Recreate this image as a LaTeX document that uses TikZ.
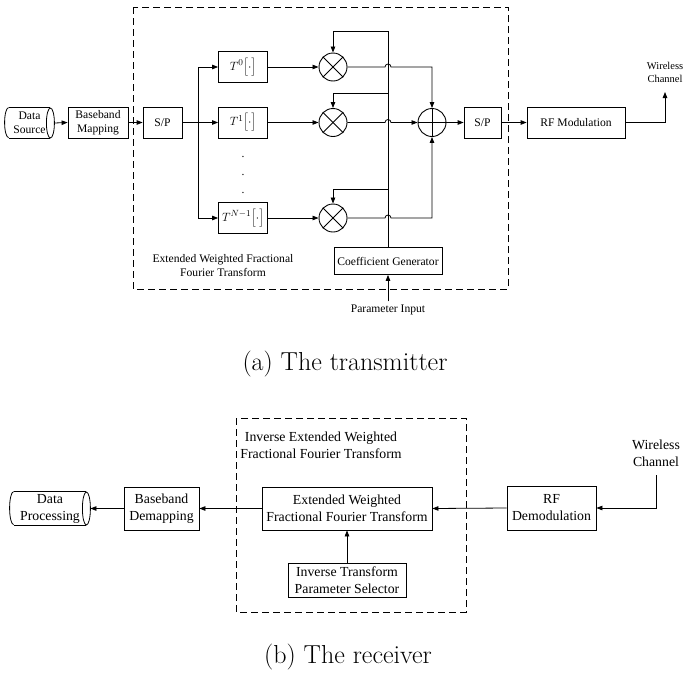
\documentclass[tikz,border=0pt]{standalone}
\usepackage{fontspec}
\setmainfont{Liberation Serif}
\newfontfamily\lmfont{Latin Modern Roman}
\usetikzlibrary{arrows.meta,calc}
\begin{document}
\begin{tikzpicture}[x=1pt,y=-1pt,
  every node/.style={font=\fontsize{11.6}{14}\selectfont},
  box/.style={draw, line width=0.8pt, inner sep=0pt, align=center},
  ln/.style={line width=0.8pt},
  arr/.style={line width=0.8pt, -{Triangle[length=6pt,width=4.5pt]}},
  mult/.style={draw, circle, line width=0.9pt, minimum size=28pt, inner sep=0pt},
  dbox/.style={draw, line width=0.8pt, dash pattern=on 7pt off 4pt},
  rx/.style={font=\fontsize{13.8}{17}\selectfont},
  mathlbl/.style={font=\fontsize{13}{15}\selectfont},
  captext/.style={font=\lmfont\fontsize{26}{30}\selectfont}
]
\path[use as bounding box] (0,0) rectangle (688,675);

% ---------------- transmitter ----------------
\draw[dbox] (133,7) rectangle (508,289);

\node[box, draw=none, minimum width=49pt, minimum height=30pt] (ds) at (29.5,123) {Data\\Source};
\draw[ln] ([xshift=4pt]ds.north west) arc[start angle=90,end angle=270,x radius=4pt,y radius=15pt];
\draw[ln] ([xshift=4pt]ds.north west) -- ([xshift=-4pt]ds.north east);
\draw[ln] ([xshift=4pt]ds.south west) -- ([xshift=-4pt]ds.south east);
\draw[ln] ([xshift=-4pt]ds.east) ellipse [x radius=4pt, y radius=15pt];

\node[box, minimum width=60pt, minimum height=31pt] (bm) at (98,122.5) {Baseband\\Mapping};
\node[box, minimum width=39pt, minimum height=31pt] (sp1) at (162.5,122.5) {S/P};
\node[box, mathlbl, minimum width=49pt, minimum height=31pt] (t0) at (243,67) {$T^{0}\Bigl[\cdot\Bigr]$};
\node[box, mathlbl, minimum width=49pt, minimum height=31pt] (t1) at (243,122.5) {$T^{1}\Bigl[\cdot\Bigr]$};
\node[box, mathlbl, minimum width=49pt, minimum height=31pt] (tn) at (243,218) {$T^{N-1}\Bigl[\cdot\Bigr]$};
\node at (243,157) {.};
\node at (243,175) {.};
\node at (243,193) {.};

\node[mult] (m0) at (333,67) {};
\node[mult] (m1) at (333,122.5) {};
\node[mult] (m2) at (333,218) {};
\foreach \m in {m0,m1,m2}{
  \draw[ln] (\m.north west) -- (\m.south east);
  \draw[ln] (\m.north east) -- (\m.south west);
}
\node[mult] (sum) at (432,122.5) {};
\draw[ln] (sum.north) -- (sum.south);
\draw[line width=1.2pt] (sum.west) -- (sum.east);

\node[box, minimum width=37pt, minimum height=31pt] (sp2) at (482.5,122.5) {S/P};
\node[box, minimum width=98pt, minimum height=31pt] (rf) at (576,122.5) {RF Modulation};
\node[box, minimum width=108pt, minimum height=27pt] (cg) at (388,261) {Coefficient Generator};
\node (pin) at (388,310) {Parameter Input};
\node[font=\fontsize{10.5}{13}\selectfont, align=center] (wc1) at (665,72) {Wireless\\Channel};
\node[align=center] (lbl1) at (223,265.5) {Extended Weighted Fractional\\Fourier Transform};

\draw[arr] (ds.east) -- (bm.west);
\draw[arr] (bm.east) -- (sp1.west);
\draw[arr] (sp1.east) -- (t1.west);
\coordinate (br) at (198,122.5);
\draw[arr] (br) |- (t0.west);
\draw[arr] (br) |- (tn.west);
\draw[arr] (t0.east) -- (m0.west);
\draw[arr] (t1.east) -- (m1.west);
\draw[arr] (tn.east) -- (m2.west);

\coordinate (c0) at (388,31);
\coordinate (c1) at (388,93);
\coordinate (c2) at (388,189);
\draw[ln] (cg.north) -- (c0);
\draw[arr] (c0) -| (m0.north);
\draw[arr] (c1) -| (m1.north);
\draw[arr] (c2) -| (m2.north);

\draw[arr] (m0.east) -- (385,67) arc[start angle=180,end angle=0,radius=3pt] -- (432,67) -- (sum.north);
\draw[arr] (m1.east) -- (385,122.5) arc[start angle=180,end angle=0,radius=3pt] -- (sum.west);
\draw[arr] (m2.east) -- (385,218) arc[start angle=180,end angle=0,radius=3pt] -- (432,218) -- (sum.south);

\draw[arr] (sum.east) -- (sp2.west);
\draw[arr] (sp2.east) -- (rf.west);
\coordinate (w1) at (665,92);
\draw[arr] (rf.east) -| (w1);
\draw[arr] (pin.north) -- (cg.south);

\node[captext] at (345,364) {(a) The transmitter};

% ---------------- receiver ----------------
\draw[dbox] (236,418) rectangle (466,612);
\node[rx, align=center] (lbl2) at (321,445) {Inverse Extended Weighted\\Fractional Fourier Transform};
\node[box, rx, minimum width=170pt, minimum height=43pt] (ew) at (347,508.5) {Extended Weighted\\Fractional Fourier Transform};
\node[box, rx, minimum width=118pt, minimum height=34pt] (ips) at (347,580) {Inverse Transform\\Parameter Selector};
\node[box, rx, minimum width=89pt, minimum height=44pt] (rd) at (551.5,508) {RF\\Demodulation};
\node[box, rx, minimum width=75pt, minimum height=43pt] (bd) at (161.5,508.5) {Baseband\\Demapping};

\node[box, rx, draw=none, minimum width=80pt, minimum height=33pt] (dp) at (50,508.5) {Data\\Processing};
\draw[ln] ([xshift=4pt]dp.north west) arc[start angle=90,end angle=270,x radius=4pt,y radius=16.5pt];
\draw[ln] ([xshift=4pt]dp.north west) -- ([xshift=-4pt]dp.north east);
\draw[ln] ([xshift=4pt]dp.south west) -- ([xshift=-4pt]dp.south east);
\draw[ln] ([xshift=-4pt]dp.east) ellipse [x radius=4pt, y radius=16.5pt];

\node[rx, align=center] (wc2) at (656,453) {Wireless\\Channel};
\coordinate (w2) at (656,475);
\draw[arr] (w2) |- (rd.east);
\draw[arr] (rd.west) -- (ew.east);
\draw[arr] (ips.north) -- (ew.south);
\draw[arr] (ew.west) -- (bd.east);
\draw[arr] (bd.west) -- (dp.east);

\node[captext] at (348,657) {(b) The receiver};
\end{tikzpicture}
\end{document}
